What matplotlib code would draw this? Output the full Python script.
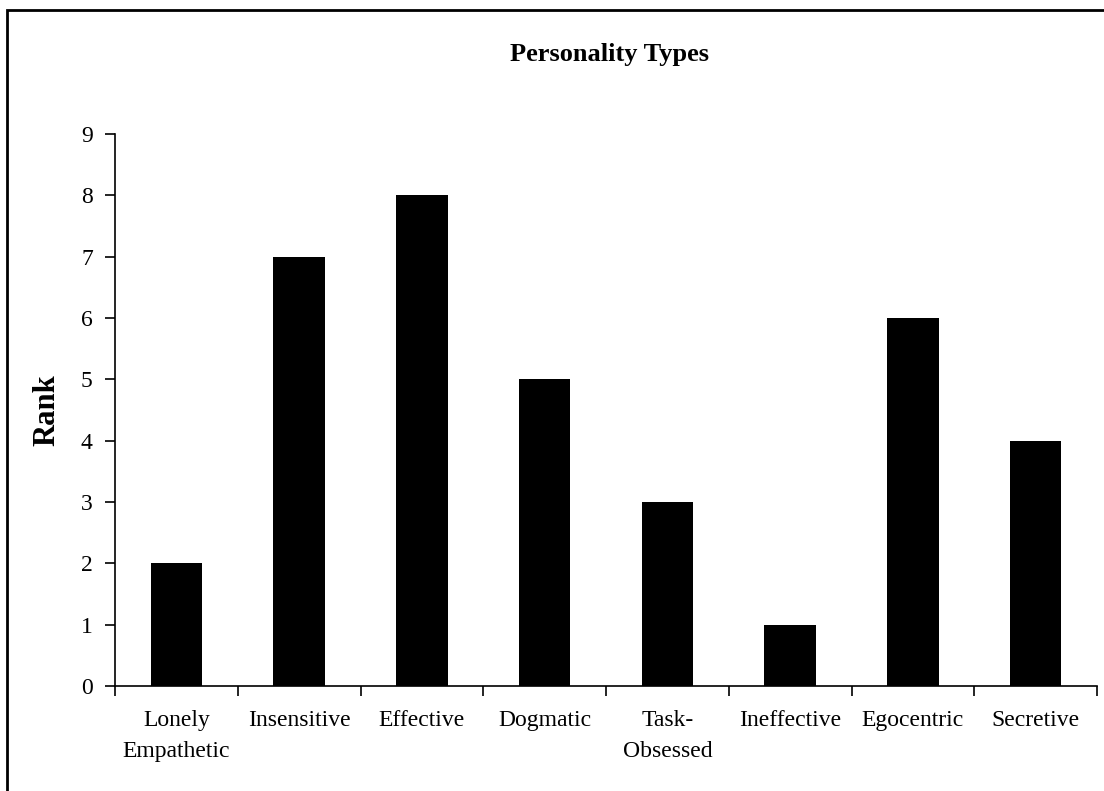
import matplotlib
matplotlib.use('Agg')
import matplotlib.pyplot as plt
from matplotlib.patches import Rectangle

categories = ['Lonely\nEmpathetic', 'Insensitive', 'Effective', 'Dogmatic',
              'Task-\nObsessed', 'Ineffective', 'Egocentric', 'Secretive']
ranks = [2, 7, 8, 5, 3, 1, 6, 4]

plt.rcParams['font.family'] = ['Liberation Serif', 'DejaVu Serif']

fig = plt.figure(figsize=(11.04, 7.91), dpi=100)
ax = fig.add_axes([115 / 1104, 1 - 686 / 791, (1097 - 115) / 1104, (686 - 134) / 791])

x = list(range(len(categories)))
ax.bar(x, ranks, width=0.42, color='black')

ax.set_xlim(-0.5, len(categories) - 0.5)
ax.set_ylim(0, 9)
ax.set_yticks(range(10))
ax.set_xticks(x)
ax.set_xticklabels(categories, fontsize=17, linespacing=1.65, va='top')
ax.set_xticks([i - 0.5 for i in range(len(categories) + 1)], minor=True)
ax.tick_params(axis='x', which='major', length=0, pad=17)
ax.tick_params(axis='x', which='minor', direction='out', length=7, width=1.2)
ax.tick_params(axis='y', direction='out', length=7, width=1.2, labelsize=17, pad=9)
ax.spines['top'].set_visible(False)
ax.spines['right'].set_visible(False)
ax.spines['left'].set_linewidth(1.2)
ax.spines['bottom'].set_linewidth(1.2)

ax.set_ylabel('Rank', fontsize=22, fontweight='bold', labelpad=14)
fig.text(610 / 1104, 1 - 55 / 791, 'Personality Types', fontsize=19, fontweight='bold',
         ha='center', va='center')

# outer chart border (right and bottom fall off the image)
fig.patches.append(Rectangle((7 / 1104, -0.05), 1.2, 1 - 10 / 791 + 0.05,
                             transform=fig.transFigure, fill=False,
                             edgecolor='black', linewidth=2))

fig.savefig('out.png', dpi=100)
